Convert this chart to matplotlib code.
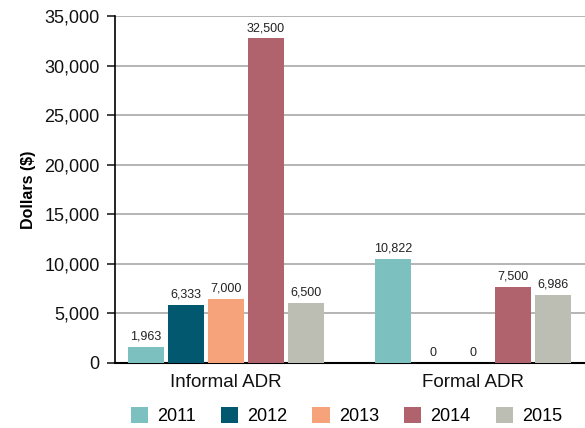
import numpy as np
import matplotlib; matplotlib.use("Agg")
import matplotlib.pyplot as plt

plt.rcParams["font.family"] = ["Liberation Sans", "DejaVu Sans"]

groups = ["Informal ADR", "Formal ADR"]
years = ["2011", "2012", "2013", "2014", "2015"]
colors = ["#7cc0c0", "#02586e", "#f6a27b", "#b1636d", "#bcbdb3"]
# bar heights as drawn in the picture, labels as printed above them
heights = {
    "2011": [1620, 10500],
    "2012": [5840, 0],
    "2013": [6450, 0],
    "2014": [32760, 7660],
    "2015": [6040, 6850],
}
labels = {
    "2011": ["1,963", "10,822"],
    "2012": ["6,333", "0"],
    "2013": ["7,000", "0"],
    "2014": ["32,500", "7,500"],
    "2015": ["6,500", "6,986"],
}

fig = plt.figure(figsize=(5.85, 4.28), dpi=100)
ax = fig.add_axes([0.1966, 0.152, 0.8034, 0.8106])
x = np.arange(len(groups))
step, w = 0.162, 0.1457
for i, (y, c) in enumerate(zip(years, colors)):
    xs = x + (i - 2) * step
    ax.bar(xs, heights[y], width=w, color=c, zorder=3, label=y)
    for xi, h, t in zip(xs, heights[y], labels[y]):
        ax.annotate(t, (xi, h), xytext=(0, 3), textcoords="offset points",
                    ha="center", va="bottom", fontsize=9, color="#222222")

ax.set_xlim(-0.449, 1.453); ax.set_ylim(0, 35000)
ax.set_yticks(range(0, 35001, 5000))
ax.set_yticklabels([f"{v:,}" for v in range(0, 35001, 5000)], fontsize=13, color="#111111")
ax.set_xticks(x); ax.set_xticklabels(groups, fontsize=13.5, color="#111111")
ax.tick_params(axis="x", length=0, pad=8)
ax.tick_params(axis="y", length=6, width=1.2, pad=5, color="#222222")
ax.grid(axis="y", color="#b4b4b4", linewidth=1.4, zorder=0)
for s in ["top", "right"]: ax.spines[s].set_visible(False)
ax.spines["left"].set_linewidth(1.2); ax.spines["bottom"].set_linewidth(1.5)
ax.set_ylabel("Dollars ($)", fontsize=11.5, fontweight="bold", labelpad=6)
fig.legend(loc="center", bbox_to_anchor=(0.592, 0.028), ncol=5, frameon=False, fontsize=13,
           handlelength=0.95, handleheight=0.95, handletextpad=0.5, columnspacing=1.4)
fig.savefig("out.png", dpi=100)
